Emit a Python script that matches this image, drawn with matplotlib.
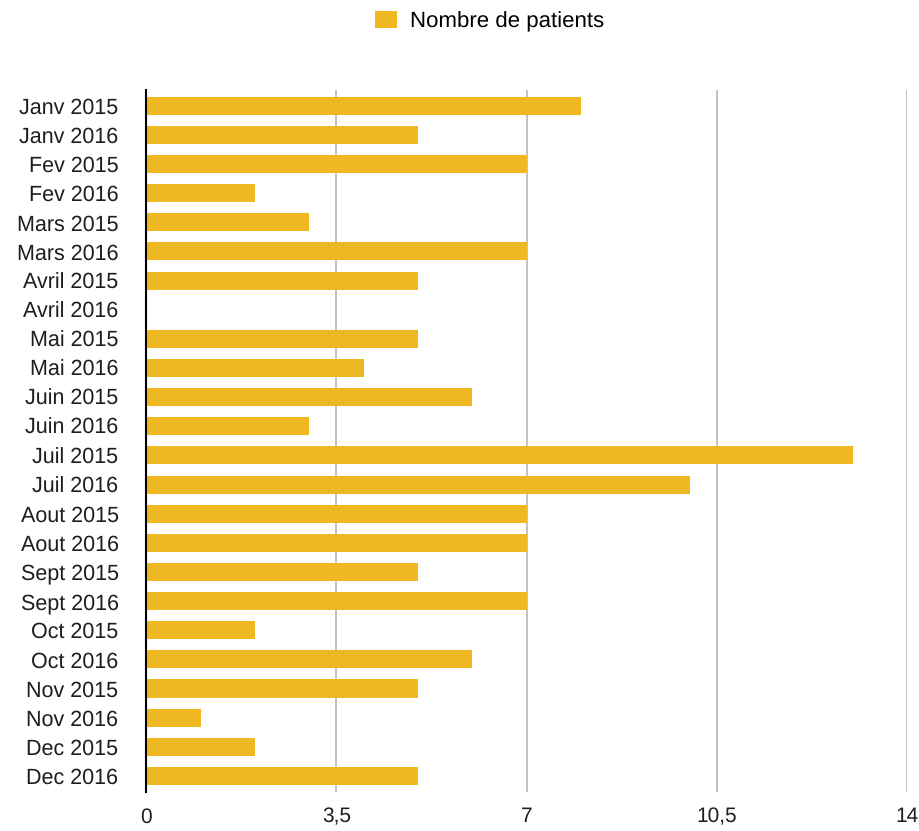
import numpy as np
import matplotlib.pyplot as plt

plt.rcParams['font.family'] = ['Liberation Sans', 'DejaVu Sans']
plt.rcParams['text.hinting'] = 'no_hinting'

months = ['Janv 2015', 'Janv 2016', 'Fev 2015', 'Fev 2016', 'Mars 2015', 'Mars 2016',
          'Avril 2015', 'Avril 2016', 'Mai 2015', 'Mai 2016', 'Juin 2015', 'Juin 2016',
          'Juil 2015', 'Juil 2016', 'Aout 2015', 'Aout 2016', 'Sept 2015', 'Sept 2016',
          'Oct 2015', 'Oct 2016', 'Nov 2015', 'Nov 2016', 'Dec 2015', 'Dec 2016']
patients = [8, 5, 7, 2, 3, 7, 5, 0, 5, 4, 6, 3, 13, 10, 7, 7, 5, 7, 2, 6, 5, 1, 2, 5]
ticks = [0, 3.5, 7, 10.5, 14]
tick_labels = ['0', '3,5', '7', '10,5', '14']

bar_color = '#EFB722'
text_color = '#1e1e1e'

fig = plt.figure(figsize=(9.2, 8.31), dpi=100)
ax = fig.add_axes([0.159, 0.047, 0.827, 0.845])

y = np.arange(len(months))
ax.barh(y, patients, height=0.62, color=bar_color, label='Nombre de patients', zorder=3)

ax.set_ylim(len(months) - 0.45, -0.55)
ax.set_xlim(0, 14)
ax.set_yticks(y)
ax.set_yticklabels(months, fontsize=15.5, color=text_color)
ax.set_xticks(ticks)
ax.set_xticklabels(tick_labels, fontsize=15, color=text_color)
for lbl in ax.get_xticklabels():
    lbl.set_va('baseline')
ax.tick_params(axis='y', length=0, pad=20)
ax.tick_params(axis='x', length=0, pad=22)

ax.grid(axis='x', color='#bdbdbd', linewidth=1.3, zorder=0)
for side in ['top', 'right', 'bottom']:
    ax.spines[side].set_visible(False)
ax.spines['left'].set_color('black')
ax.spines['left'].set_linewidth(1.5)
ax.spines['left'].set_zorder(4)

fig.legend(loc='center', bbox_to_anchor=(0.532, 0.974), frameon=False, fontsize=16,
           handlelength=1.0, handleheight=0.75, handletextpad=0.55)

fig.savefig('out.png', dpi=100)
